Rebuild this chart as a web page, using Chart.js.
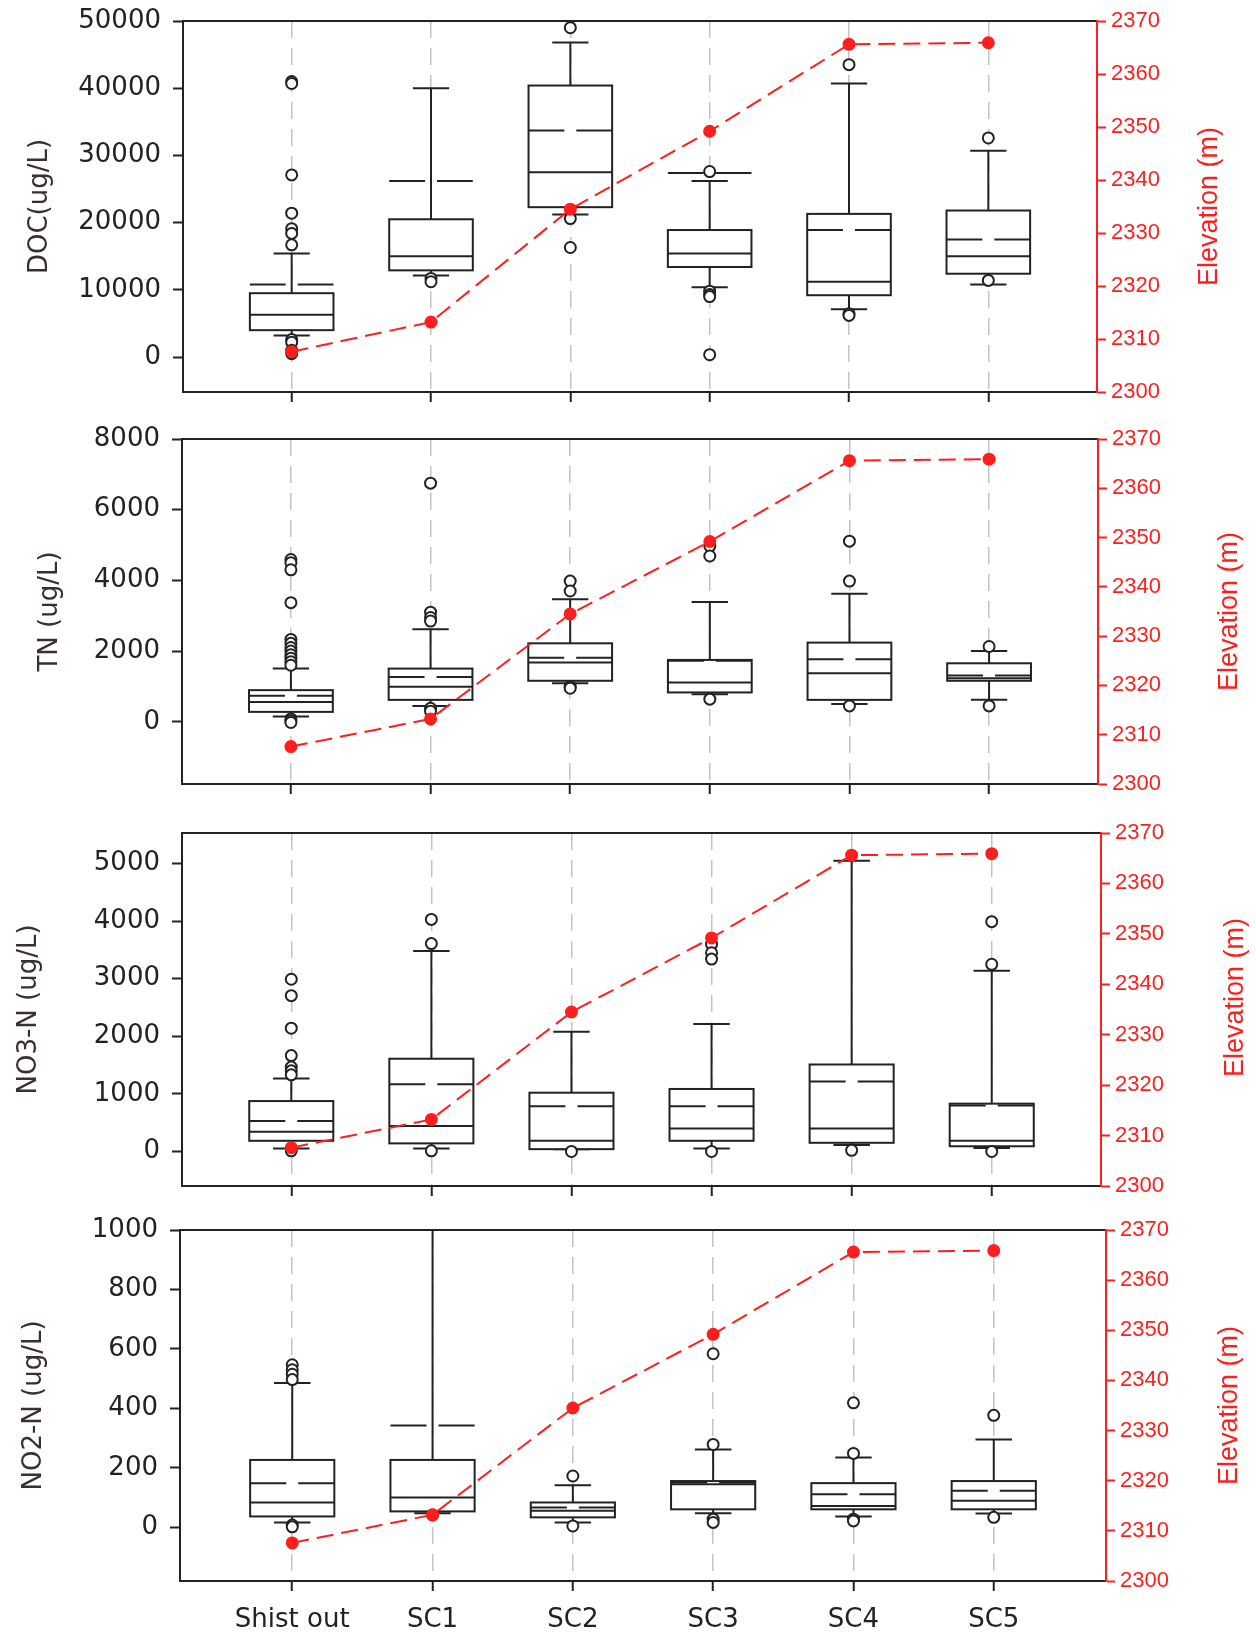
<!DOCTYPE html>
<html>
<head>
<meta charset="utf-8">
<script src="https://cdn.jsdelivr.net/npm/chart.js@4.4.1/dist/chart.umd.min.js"></script>
<style>
  body { margin: 0; background: #fff; width: 1256px; height: 1638px; position: relative; overflow: hidden; }
  canvas { position: absolute; left: 0; }
</style>
</head>
<body>
<canvas id="c1" width="1256" height="420" style="top:0px"></canvas>
<canvas id="c2" width="1256" height="400" style="top:420px"></canvas>
<canvas id="c3" width="1256" height="395" style="top:820px"></canvas>
<canvas id="c4" width="1256" height="423" style="top:1215px"></canvas>
<script>
// sites along the stream
const categories = ['Shist out', 'SC1', 'SC2', 'SC3', 'SC4', 'SC5'];
const elevation = [2307.6, 2313.2, 2334.5, 2349.2, 2365.6, 2365.9];
const elevTicks = [2300, 2310, 2320, 2330, 2340, 2350, 2360, 2370];

// DOC (ug/L)
const docLow    = [3200, 12150, 21200, 10400, 7100, 10800];
const docQ1     = [4000, 12900, 22300, 13400, 9200, 12400];
const docMedian = [6300, 15000, 27500, 15400, 11200, 15000];
const docQ3     = [9500, 20500, 40400, 18900, 21300, 21800];
const docHigh   = [15400, 40000, 46800, 26200, 40700, 30700];
const docMean   = [10800, 26200, 33700, 27400, 18900, 17500];
const docOutliers = [
  [41000, 40700, 27100, 21400, 19100, 18400, 16700, 2600, 2200, 1000, 500],
  [11700, 11200],
  [49000, 20600, 16300],
  [27600, 9800, 9300, 9000, 350],
  [43500, 6450, 6200],
  [32600, 11400]
];
const docTicks = [0, 10000, 20000, 30000, 40000, 50000];

// TN (ug/L)
const tnLow    = [150, 450, 1090, 780, 500, 620];
const tnQ1     = [280, 620, 1160, 830, 620, 1160];
const tnMedian = [560, 990, 1675, 1110, 1375, 1230];
const tnQ3     = [895, 1505, 2220, 1750, 2240, 1655];
const tnHigh   = [1505, 2615, 3465, 3390, 3620, 2000];
const tnMean   = [735, 1270, 1815, 1730, 1770, 1310];
const tnOutliers = [
  [4590, 4500, 4300, 3370, 2330, 2220, 2100, 2000, 1900, 1800, 1700, 1600, 80, 30, -20],
  [6750, 3100, 2950, 2850, 380, 300],
  [3980, 3700, 1000, 950],
  [4970, 4690, 640],
  [5110, 3980, 450],
  [2130, 450]
];
const tnTicks = [0, 2000, 4000, 6000, 8000];

// NO3-N (ug/L)
const no3Low    = [50, 50, 40, 50, 110, 60];
const no3Q1     = [185, 140, 40, 185, 150, 90];
const no3Median = [340, 440, 185, 400, 400, 185];
const no3Q3     = [875, 1610, 1020, 1085, 1510, 830];
const no3High   = [1265, 3480, 2080, 2215, 5050, 3140];
const no3Mean   = [530, 1165, 785, 785, 1215, 800];
const no3Outliers = [
  [2990, 2705, 2140, 1665, 1465, 1400, 1330, 10],
  [4030, 3610, 10],
  [0],
  [3600, 3450, 3340, 0],
  [20],
  [3990, 3250, 0]
];
const no3Ticks = [0, 1000, 2000, 3000, 4000, 5000];

// NO2-N (ug/L)
const no2Low    = [17, 48, 17, 48, 37, 47];
const no2Q1     = [37, 54, 34, 61, 61, 61];
const no2Median = [84, 101, 56, 145, 72, 90];
const no2Q3     = [227, 227, 84, 156, 149, 156];
const no2High   = [486, 1000, 142, 262, 235, 296];
const no2Mean   = [149, 343, 67, 151, 112, 123];
const no2Outliers = [
  [547, 530, 515, 497, 8, 2],
  [42],
  [173, 5],
  [584, 279, 28, 17],
  [419, 249, 28, 22],
  [377, 34]
];
const no2Ticks = [0, 200, 400, 600, 800, 1000];

const panels = [
  { id: 'c1', h: 420, title: 'DOC(ug/L)', titlePad: 25, min: -5200, max: 50000, ticks: docTicks,
    low: docLow, q1: docQ1, median: docMedian, q3: docQ3, high: docHigh, mean: docMean, outliers: docOutliers,
    left: 183, right: 1097, top: 21, bottom: 392, xMin: -0.78, xMax: 5.78, elevX: 1210, elevDy: 0, labels: false },
  { id: 'c2', h: 400, title: 'TN (ug/L)', titlePad: 35, min: -1760, max: 8000, ticks: tnTicks,
    low: tnLow, q1: tnQ1, median: tnMedian, q3: tnQ3, high: tnHigh, mean: tnMean, outliers: tnOutliers,
    left: 182, right: 1098, top: 19, bottom: 364, xMin: -0.78, xMax: 5.78, elevX: 1230, elevDy: 0, labels: false },
  { id: 'c3', h: 395, title: 'NO3-N (ug/L)', titlePad: 14, min: -600, max: 5530, ticks: no3Ticks,
    low: no3Low, q1: no3Q1, median: no3Median, q3: no3Q3, high: no3High, mean: no3Mean, outliers: no3Outliers,
    left: 182, right: 1101, top: 13, bottom: 366, xMin: -0.78, xMax: 5.78, elevX: 1236, elevDy: -12, labels: false },
  { id: 'c4', h: 423, title: 'NO2-N (ug/L)', titlePad: 19, min: -180, max: 1000, ticks: no2Ticks,
    low: no2Low, q1: no2Q1, median: no2Median, q3: no2Q3, high: no2High, mean: no2Mean, outliers: no2Outliers,
    left: 180, right: 1106, top: 15, bottom: 366, xMin: -0.8, xMax: 5.8, elevX: 1230, elevDy: 0, labels: true }
];

const INK = '#222';
const RED = '#ff1e1e';
const valueFont = { family: "'DejaVu Sans', sans-serif", size: 26, lineHeight: 1.2 };
const plain = v => String(v);

function boxPlugin(p) {
  return {
    id: 'boxes',
    beforeDatasetsDraw(chart) {
      const { ctx, chartArea: a } = chart;
      const x = chart.scales.x, y = chart.scales.y;
      const line = (x1, y1, x2, y2) => { ctx.beginPath(); ctx.moveTo(x1, y1); ctx.lineTo(x2, y2); ctx.stroke(); };
      ctx.save();
      ctx.beginPath();
      ctx.rect(a.left, a.top, a.right - a.left, a.bottom - a.top);
      ctx.clip();
      ctx.strokeStyle = INK;
      ctx.lineWidth = 2;
      categories.forEach((c, i) => {
        const cx = x.getPixelForValue(i);
        const hw = x.getPixelForValue(i + 0.3) - cx;
        const cw = x.getPixelForValue(i + 0.13) - cx;
        const yLo = y.getPixelForValue(p.low[i]);
        const yQ1 = y.getPixelForValue(p.q1[i]);
        const yMed = y.getPixelForValue(p.median[i]);
        const yQ3 = y.getPixelForValue(p.q3[i]);
        const yHi = y.getPixelForValue(p.high[i]);
        const yMean = y.getPixelForValue(p.mean[i]);
        line(cx, yLo, cx, yQ1);
        line(cx, yQ3, cx, yHi);
        line(cx - cw, yLo, cx + cw, yLo);
        line(cx - cw, yHi, cx + cw, yHi);
        ctx.fillStyle = '#fff';
        ctx.fillRect(cx - hw, yQ3, 2 * hw, yQ1 - yQ3);
        ctx.strokeRect(cx - hw, yQ3, 2 * hw, yQ1 - yQ3);
        line(cx - hw, yMed, cx + hw, yMed);
        ctx.setLineDash([hw - 6, 12]);
        line(cx - hw, yMean, cx + hw, yMean);
        ctx.setLineDash([]);
      });
      ctx.restore();
    },
    afterDraw(chart) {
      // right axis title reads bottom to top, like the left one
      const { ctx, chartArea: a } = chart;
      ctx.save();
      ctx.translate(p.elevX, (a.top + a.bottom) / 2 + p.elevDy);
      ctx.rotate(-Math.PI / 2);
      ctx.fillStyle = RED;
      ctx.font = "27px Arial, 'Liberation Sans', sans-serif";
      ctx.textAlign = 'center';
      ctx.textBaseline = 'middle';
      ctx.fillText('Elevation (m)', 0, 0);
      ctx.restore();
    }
  };
}

function makePanel(p) {
  const outlierPoints = [];
  p.outliers.forEach((list, i) => list.forEach(v => outlierPoints.push({ x: i, y: v })));

  new Chart(document.getElementById(p.id), {
    type: 'line',
    data: {
      datasets: [
        {
          label: 'Elevation',
          data: elevation.map((v, i) => ({ x: i, y: v })),
          xAxisID: 'x',
          yAxisID: 'y2',
          borderColor: RED,
          borderWidth: 2,
          borderDash: [17, 8],
          pointRadius: 5.5,
          pointBackgroundColor: RED,
          pointBorderColor: RED,
          tension: 0,
          fill: false
        },
        {
          label: 'Outliers',
          data: outlierPoints,
          xAxisID: 'x',
          yAxisID: 'y',
          showLine: false,
          pointRadius: 5.5,
          pointBorderWidth: 2,
          pointBorderColor: INK,
          pointBackgroundColor: '#fff'
        }
      ]
    },
    options: {
      responsive: false,
      animation: false,
      devicePixelRatio: 1,
      layout: { padding: 0 },
      plugins: { legend: { display: false }, tooltip: { enabled: false } },
      scales: {
        x: {
          type: 'linear',
          position: 'bottom',
          min: p.xMin,
          max: p.xMax,
          afterBuildTicks: s => { s.ticks = categories.map((c, i) => ({ value: i })); },
          afterFit: s => { s.height = p.h - p.bottom; s.paddingLeft = 0; s.paddingRight = 0; },
          ticks: {
            display: p.labels,
            autoSkip: false,
            maxRotation: 0,
            padding: 14,
            color: '#222',
            font: valueFont,
            callback: v => categories[v]
          },
          grid: { color: '#c4c4c4', lineWidth: 1.5, tickColor: INK, tickWidth: 2, tickLength: 10, tickBorderDash: [] },
          border: { color: INK, width: 2, dash: [17, 10] }
        },
        xTop: {
          type: 'linear',
          position: 'top',
          min: p.xMin,
          max: p.xMax,
          afterFit: s => { s.height = p.top; s.paddingLeft = 0; s.paddingRight = 0; },
          ticks: { display: false },
          grid: { display: false },
          border: { display: true, color: INK, width: 2 }
        },
        y: {
          type: 'linear',
          position: 'left',
          min: p.min,
          max: p.max,
          afterBuildTicks: s => { s.ticks = p.ticks.map(v => ({ value: v })); },
          afterFit: s => { s.width = p.left; s.paddingTop = 0; s.paddingBottom = 0; },
          ticks: { color: '#222', font: valueFont, padding: 12, callback: plain },
          grid: { drawOnChartArea: false, tickColor: INK, tickWidth: 2, tickLength: 10 },
          border: { color: INK, width: 2 },
          title: {
            display: true,
            text: p.title,
            color: '#3a2f2f',
            font: valueFont,
            padding: { top: p.titlePad, bottom: 0 }
          }
        },
        y2: {
          type: 'linear',
          position: 'right',
          min: 2300,
          max: 2370,
          afterBuildTicks: s => { s.ticks = elevTicks.map(v => ({ value: v })); },
          afterFit: s => { s.width = 1256 - p.right; s.paddingTop = 0; s.paddingBottom = 0; },
          ticks: { color: RED, font: { family: "Arial, 'Liberation Sans', sans-serif", size: 22 }, padding: 5, callback: plain },
          grid: { drawOnChartArea: false, color: RED, tickColor: RED, tickWidth: 2, tickLength: 9 },
          border: { color: RED, width: 2 }
        }
      }
    },
    plugins: [boxPlugin(p)]
  });
}

panels.forEach(makePanel);
</script>
</body>
</html>
